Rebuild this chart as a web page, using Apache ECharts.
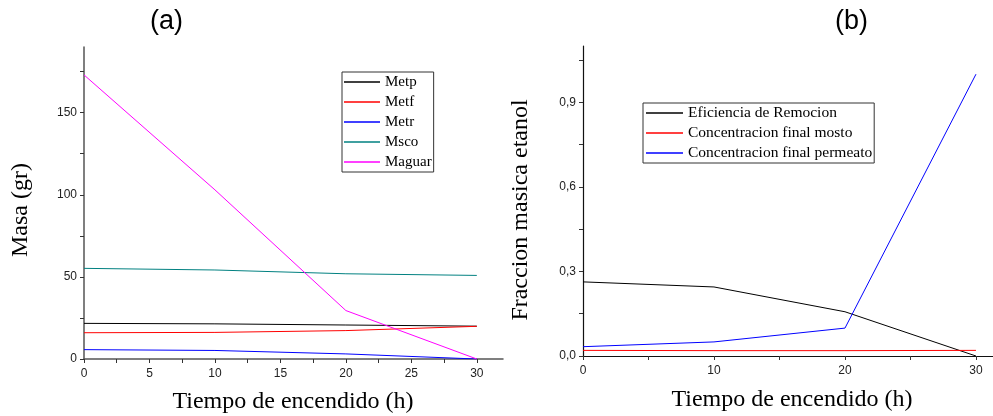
<!DOCTYPE html>
<html><head><meta charset="utf-8">
<script src="https://cdn.jsdelivr.net/npm/echarts@6/dist/echarts.min.js"></script>
<style>html,body{margin:0;padding:0;background:#fff}#c{width:993px;height:416px}</style>
</head><body><div id="c"></div>
<script>
// Panel (a)
const hoursA = [0, 10, 20, 30];
const metp   = [21.7, 21.4, 20.7, 20.0];
const metf   = [16.0, 16.2, 17.3, 19.9];
const metr   = [5.7, 5.2, 3.1, 0.0];
const msco   = [55.2, 54.2, 51.9, 50.9];
const maguar = [173, 103, 29.5, 0];
const xTicksA = [0, 5, 10, 15, 20, 25, 30];
const yTicksA = [0, 50, 100, 150];

// Panel (b)
const hoursB = [0, 10, 20, 30];
const eficiencia = [0.263, 0.245, 0.157, 0.0];
const mosto      = [0.020, 0.019, 0.019, 0.020];
const permeato   = [0.033, 0.050, 0.099, 1.0];
const xTicksB = [0, 10, 20, 30];
const yTicksB = [0, 0.3, 0.6, 0.9];

const pair = (xs, ys) => xs.map((x, i) => [x, ys[i]]);
const sans = 'Liberation Sans, Arial, sans-serif';
const serif = 'Liberation Serif, Times New Roman, serif';

function halfSteps(arr, extra) {
  const out = [];
  for (let i = 0; i < arr.length; i++) {
    out.push(arr[i]);
    if (i < arr.length - 1) out.push((arr[i] + arr[i + 1]) / 2);
  }
  if (extra !== undefined) out.push(extra);
  return out;
}

const axisCommon = (color, w) => ({
  axisLine: { show: true, onZero: false, lineStyle: { color: color, width: w } },
  splitLine: { show: false }
});

const chart = echarts.init(document.getElementById('c'), null, { renderer: 'canvas' });

const line = (name, data, color, xi) => ({
  name: name, type: 'line', xAxisIndex: xi, yAxisIndex: xi, data: data,
  symbol: 'none', lineStyle: { color: color, width: 1 }, itemStyle: { color: color },
  animation: false
});

chart.setOption({
  animation: false,
  graphic: [
    { type: 'text', left: 150, top: 8, style: { text: '(a)', font: '27px ' + sans, fill: '#000' } },
    { type: 'text', left: 835, top: 8, style: { text: '(b)', font: '27px ' + sans, fill: '#000' } },
    { type: 'text', x: 293, y: 402, style: { text: 'Tiempo de encendido (h)', font: '24px ' + serif, fill: '#000', align: 'center', verticalAlign: 'middle' } },
    { type: 'text', x: 792, y: 400, style: { text: 'Tiempo de encendido (h)', font: '24px ' + serif, fill: '#000', align: 'center', verticalAlign: 'middle' } },
    { type: 'text', x: 21, y: 210, rotation: Math.PI / 2, style: { text: 'Masa (gr)', font: '24px ' + serif, fill: '#000', align: 'center', verticalAlign: 'middle' } },
    { type: 'text', x: 521, y: 210, rotation: Math.PI / 2, style: { text: 'Fraccion masica etanol', font: '24px ' + serif, fill: '#000', align: 'center', verticalAlign: 'middle' } }
  ],
  grid: [
    { left: 84, top: 47, width: 419, height: 312 },
    { left: 583, top: 46, width: 410, height: 310 }
  ],
  legend: [
    {
      data: ['Metp', 'Metf', 'Metr', 'Msco', 'Maguar'],
      orient: 'vertical', left: 342, top: 72, icon: 'rect', itemWidth: 36, itemHeight: 1.5, itemGap: 0,
      padding: [0, 2, 0, 2], borderColor: '#333', borderWidth: 1,
      textStyle: { fontFamily: serif, fontSize: 15, lineHeight: 20, color: '#000' }
    },
    {
      data: ['Eficiencia de Remocion', 'Concentracion final mosto', 'Concentracion final permeato'],
      orient: 'vertical', left: 643, top: 103, icon: 'rect', itemWidth: 37, itemHeight: 1.5, itemGap: 0,
      padding: [0, 2, 0, 3], borderColor: '#333', borderWidth: 1,
      textStyle: { fontFamily: serif, fontSize: 15.5, lineHeight: 20, color: '#000' }
    }
  ],
  xAxis: [
    Object.assign(axisCommon('#555', 1.5), {
      type: 'value', gridIndex: 0, min: 0, max: 32,
      axisTick: { show: true, length: 4, customValues: halfSteps(xTicksA), lineStyle: { color: '#333' } },
      axisLabel: { color: '#222', fontFamily: sans, fontSize: 12, margin: 9, customValues: xTicksA }
    }),
    Object.assign(axisCommon('#111', 1.2), {
      type: 'value', gridIndex: 1, min: 0, max: 31.3,
      axisTick: { show: true, length: 4, customValues: halfSteps(xTicksB), lineStyle: { color: '#333' } },
      axisLabel: { color: '#222', fontFamily: sans, fontSize: 12, margin: 9, customValues: xTicksB }
    })
  ],
  yAxis: [
    Object.assign(axisCommon('#555', 1.5), {
      type: 'value', gridIndex: 0, min: 0, max: 190,
      axisTick: { show: true, length: 4, customValues: halfSteps(yTicksA, 175), lineStyle: { color: '#333' } },
      axisLabel: { color: '#222', fontFamily: sans, fontSize: 12, margin: 7, customValues: yTicksA }
    }),
    Object.assign(axisCommon('#111', 1.2), {
      type: 'value', gridIndex: 1, min: 0, max: 1.1,
      axisTick: { show: true, length: 4, customValues: halfSteps(yTicksB, 1.05), lineStyle: { color: '#333' } },
      axisLabel: { color: '#222', fontFamily: sans, fontSize: 12, margin: 7, customValues: yTicksB,
        formatter: v => v.toFixed(1).replace('.', ',') }
    })
  ],
  series: [
    line('Metp', pair(hoursA, metp), '#000000', 0),
    line('Metf', pair(hoursA, metf), '#ff0000', 0),
    line('Metr', pair(hoursA, metr), '#0000ff', 0),
    line('Msco', pair(hoursA, msco), '#008080', 0),
    line('Maguar', pair(hoursA, maguar), '#ff00ff', 0),
    line('Eficiencia de Remocion', pair(hoursB, eficiencia), '#000000', 1),
    line('Concentracion final mosto', pair(hoursB, mosto), '#ff0000', 1),
    line('Concentracion final permeato', pair(hoursB, permeato), '#0000ff', 1)
  ]
});
</script></body></html>
